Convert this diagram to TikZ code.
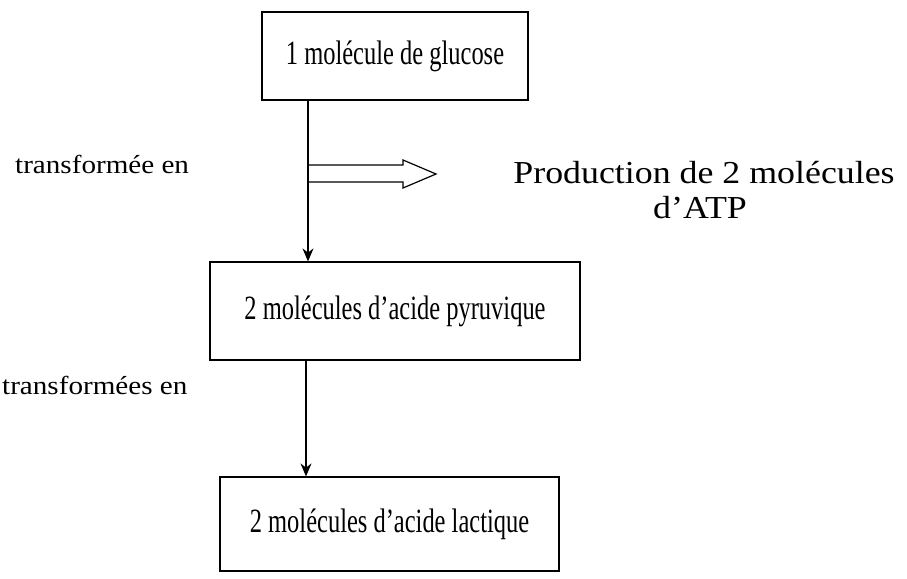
\documentclass[tikz,border=0pt]{standalone}
\usepackage{fontspec}
\setmainfont{Liberation Serif}
\usetikzlibrary{arrows.meta}
\newcommand{\boxtxt}[1]{\fontsize{34}{40}\selectfont\scalebox{0.72}[1]{#1}}
\newcommand{\lbltxt}[1]{\fontsize{26}{30}\selectfont\scalebox{1.12}[1]{#1}}
\begin{document}
\begin{tikzpicture}[x=1pt,y=-1pt,
  box/.style={draw,line width=1.2pt,inner sep=0pt},
  conn/.style={line width=1.2pt,-{Stealth[length=13pt,width=11pt]}},
  lbl/.style={anchor=base west,inner sep=0pt}]
\useasboundingbox (0,0) rectangle (907,578);
\node[box,minimum width=266pt,minimum height=88pt] (b1) at (395,56) {\boxtxt{1 molécule de glucose}};
\node[box,minimum width=370pt,minimum height=98pt] (b2) at (395,311) {\boxtxt{2 molécules d’acide pyruvique}};
\node[box,minimum width=339pt,minimum height=94pt] (b3) at (389.5,524) {\boxtxt{2 molécules d’acide lactique}};
\coordinate (v1) at (308,0);
\coordinate (v2) at (306,0);
\draw[conn] (b1.south -| v1) -- (b2.north -| v1);
\draw[conn] (b2.south -| v2) -- (b3.north -| v2);
\draw[line width=1.2pt,line join=miter] (308,165) -- (403,165) -- (403,160) -- (436,174) -- (403,188) -- (403,182) -- (308,182);
\node[lbl] (t1) at (15,173) {\lbltxt{transformée en}};
\node[lbl] (t2) at (2,394) {\lbltxt{transformées en}};
\node[anchor=base,inner sep=0pt,font=\fontsize{32}{36}\selectfont] (p1) at (704,183) {\scalebox{1.12}[1]{Production de 2 molécules}};
\node[anchor=base,inner sep=0pt,font=\fontsize{32}{36}\selectfont] (p2) at (700,218) {\scalebox{1.12}[1]{d’ATP}};
\end{tikzpicture}
\end{document}
